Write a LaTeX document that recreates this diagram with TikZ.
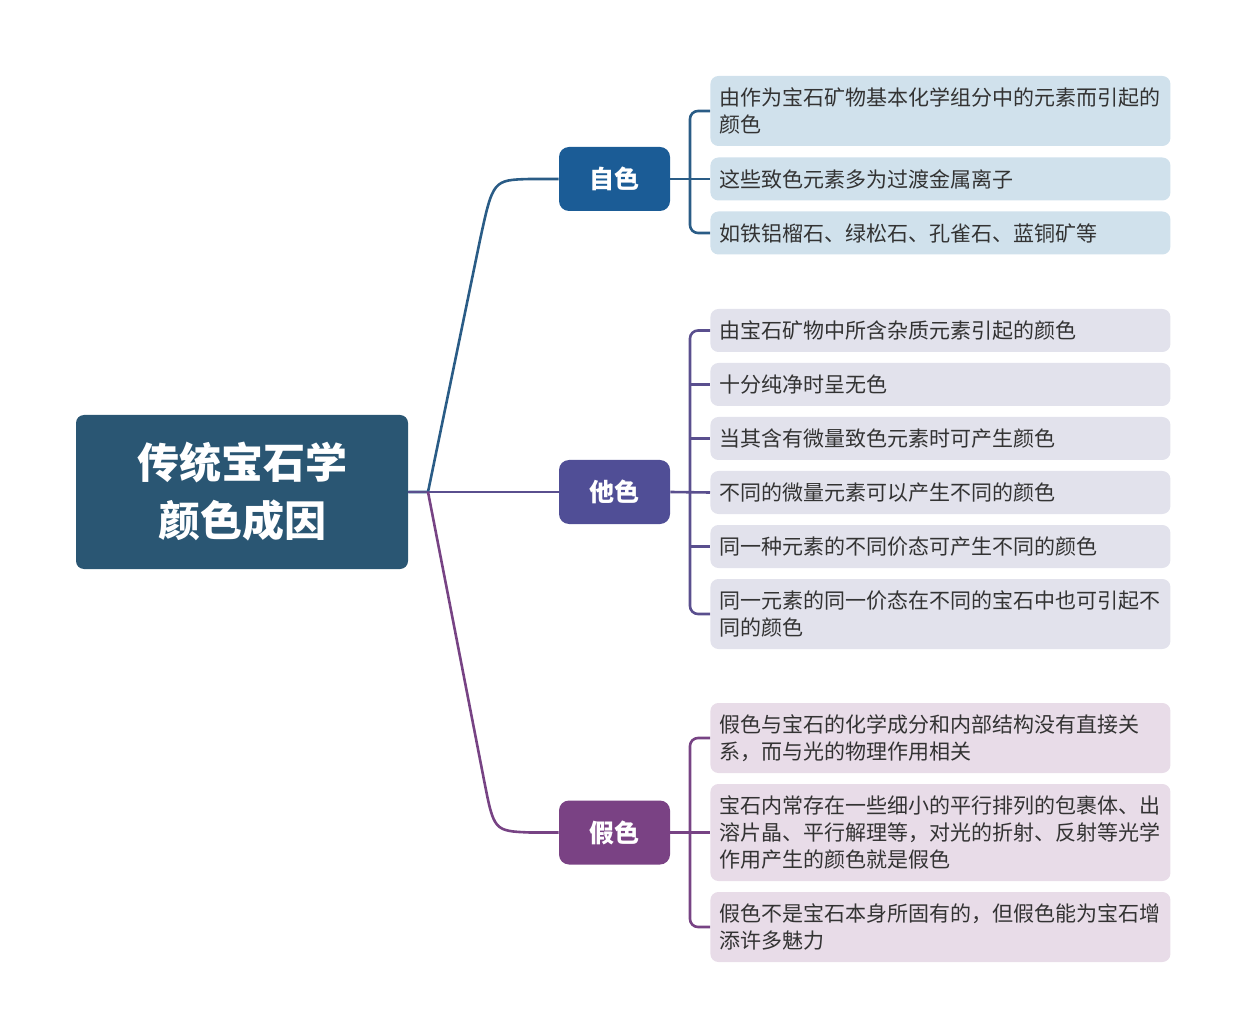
\documentclass[tikz,border=0pt]{standalone}
\usepackage{fontspec}
\setmainfont{Noto Sans CJK SC}
\definecolor{rootc}{HTML}{2A5673}
\definecolor{zic}{HTML}{1B5C96}
\definecolor{tac}{HTML}{504E96}
\definecolor{jiac}{HTML}{7A4284}
\definecolor{zil}{HTML}{2A5C86}
\definecolor{tal}{HTML}{5A4F8E}
\definecolor{jial}{HTML}{774384}
\definecolor{zifill}{HTML}{D0E1EC}
\definecolor{tafill}{HTML}{E2E2EC}
\definecolor{jiafill}{HTML}{E8DCE8}
\definecolor{leaftext}{HTML}{333333}
\tikzset{
  leaf/.style={anchor=west, rounded corners=4pt, text width=221pt, inner xsep=4.5pt,
    inner ysep=3pt, align=left, text=leaftext, font=\fontsize{10.5}{13.5}\selectfont},
  oneline/.style={minimum height=21.5pt},
  twoline/.style={minimum height=35pt},
  threeline/.style={minimum height=48.5pt},
  branch/.style={rounded corners=5pt, minimum width=55.5pt, minimum height=32pt,
    text=white, font=\fontsize{12.5}{15}\selectfont\bfseries},
  link/.style={line width=1.3pt},
}
\begin{document}
\begin{tikzpicture}[x=0.5pt,y=-0.5pt]
  \useasboundingbox (0,0) rectangle (1246,1031);
  % root
  \node[fill=rootc, rounded corners=4pt, minimum width=166pt, minimum height=77pt,
    text=white, align=center, font=\fontsize{21}{29}\selectfont\bfseries]
    (root) at (242,492) {传统宝石学\\颜色成因};
  % branches
  \node[branch, fill=zic] (zi) at (614.5,179) {自色};
  \node[branch, fill=tac] (ta) at (614.5,492) {他色};
  \node[branch, fill=jiac] (jia) at (614.5,832.5) {假色};
  % links from root
  \coordinate (hub) at (428,492);
  \draw[link, zil] (root.east) -- (hub) -- (480,240) .. controls (493,180) .. (530,179) -- (zi.west);
  \draw[link, tal] (root.east) -- (ta.west);
  \draw[link, jial] (hub) -- (484,780) .. controls (494,831) .. (530,832.5) -- (jia.west);
  % leaves of 自色
  \node[leaf, twoline, fill=zifill] (zi1) at (710,111) {由作为宝石矿物基本化学组分中的元素而引起的\\颜色};
  \node[leaf, oneline, fill=zifill] (zi2) at (710,179) {这些致色元素多为过渡金属离子};
  \node[leaf, oneline, fill=zifill] (zi3) at (710,233) {如铁铝榴石、绿松石、孔雀石、蓝铜矿等};
  % leaves of 他色
  \node[leaf, oneline, fill=tafill] (ta1) at (710,330.5) {由宝石矿物中所含杂质元素引起的颜色};
  \node[leaf, oneline, fill=tafill] (ta2) at (710,384.5) {十分纯净时呈无色};
  \node[leaf, oneline, fill=tafill] (ta3) at (710,438.5) {当其含有微量致色元素时可产生颜色};
  \node[leaf, oneline, fill=tafill] (ta4) at (710,492.5) {不同的微量元素可以产生不同的颜色};
  \node[leaf, oneline, fill=tafill] (ta5) at (710,546.5) {同一种元素的不同价态可产生不同的颜色};
  \node[leaf, twoline, fill=tafill] (ta6) at (710,614) {同一元素的同一价态在不同的宝石中也可引起不\\同的颜色};
  % leaves of 假色
  \node[leaf, twoline, fill=jiafill] (jia1) at (710,738) {假色与宝石的化学成分和内部结构没有直接关\\系，而与光的物理作用相关};
  \node[leaf, threeline, fill=jiafill] (jia2) at (710,832.5) {宝石内常存在一些细小的平行排列的包裹体、出\\溶片晶、平行解理等，对光的折射、反射等光学\\作用产生的颜色就是假色};
  \node[leaf, twoline, fill=jiafill] (jia3) at (710,927) {假色不是宝石本身所固有的，但假色能为宝石增\\添许多魅力};
  % brackets
  \coordinate (zib) at (690,179);
  \coordinate (tab) at (690,492);
  \coordinate (jiab) at (690,832.5);
  \draw[link, zil] (zi.east) -- (zi2.west);
  \draw[link, zil, rounded corners=4pt] (zi1.west) -- (zib |- zi1.west) -- (zib |- zi3.west) -- (zi3.west);
  \draw[link, tal] (ta.east) -- (ta4.west);
  \draw[link, tal, rounded corners=4pt] (ta1.west) -- (tab |- ta1.west) -- (tab |- ta6.west) -- (ta6.west);
  \foreach \i in {2,3,5} {
    \draw[link, tal] (tab |- ta\i.west) -- (ta\i.west);
  }
  \draw[link, jial] (jia.east) -- (jia2.west);
  \draw[link, jial, rounded corners=4pt] (jia1.west) -- (jiab |- jia1.west) -- (jiab |- jia3.west) -- (jia3.west);
\end{tikzpicture}
\end{document}
